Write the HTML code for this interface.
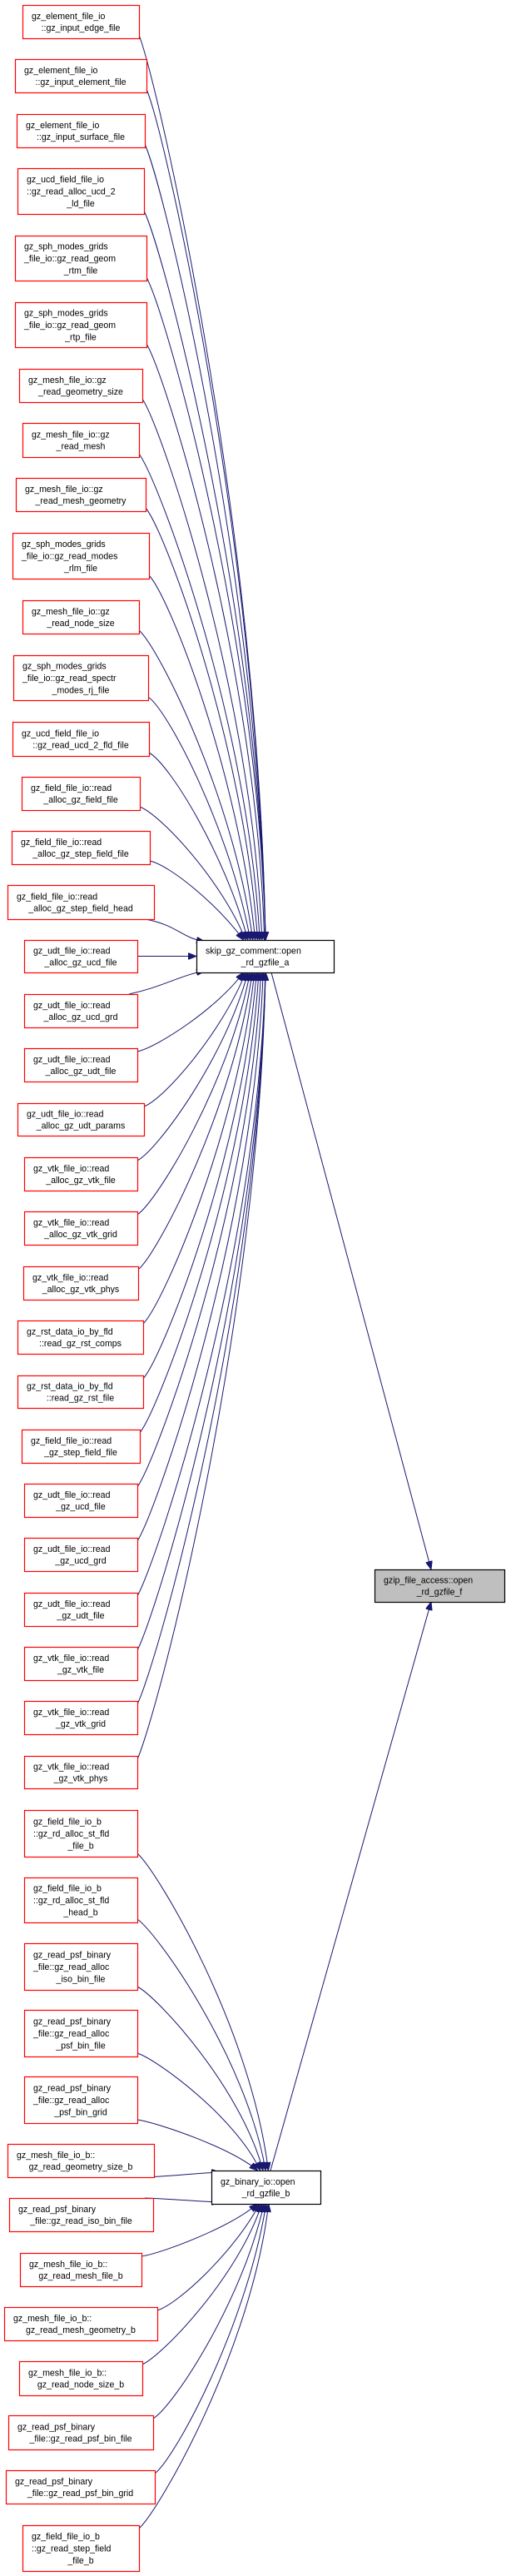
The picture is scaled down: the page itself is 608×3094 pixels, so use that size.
<!DOCTYPE html>
<html><head><meta charset="utf-8"><title>open_rd_gzfile_f caller graph</title>
<style>
html,body{margin:0;padding:0;background:#fff;}
svg{display:block;}
text{font-family:"Liberation Sans",Arial,sans-serif;font-size:10.6px;fill:#000;}
</style></head>
<body>
<svg id="g" width="608" height="3094" viewBox="0 0 608 3094" xmlns="http://www.w3.org/2000/svg">
<defs>
<marker id="ah" markerWidth="10" markerHeight="8" refX="10" refY="4" orient="auto" markerUnits="userSpaceOnUse">
<path d="M0,0 L10,4 L0,8 z" fill="#191970" stroke="#191970"/>
</marker>
</defs>
<g id="edges"></g>
<g id="nodes"></g>
</svg>
<script>
// caller labels (group A -> skip_gz_comment::open_rd_gzfile_a)
const labelsA = [
"gz_element_file_io\n::gz_input_edge_file",
"gz_element_file_io\n::gz_input_element_file",
"gz_element_file_io\n::gz_input_surface_file",
"gz_ucd_field_file_io\n::gz_read_alloc_ucd_2\n_ld_file",
"gz_sph_modes_grids\n_file_io::gz_read_geom\n_rtm_file",
"gz_sph_modes_grids\n_file_io::gz_read_geom\n_rtp_file",
"gz_mesh_file_io::gz\n_read_geometry_size",
"gz_mesh_file_io::gz\n_read_mesh",
"gz_mesh_file_io::gz\n_read_mesh_geometry",
"gz_sph_modes_grids\n_file_io::gz_read_modes\n_rlm_file",
"gz_mesh_file_io::gz\n_read_node_size",
"gz_sph_modes_grids\n_file_io::gz_read_spectr\n_modes_rj_file",
"gz_ucd_field_file_io\n::gz_read_ucd_2_fld_file",
"gz_field_file_io::read\n_alloc_gz_field_file",
"gz_field_file_io::read\n_alloc_gz_step_field_file",
"gz_field_file_io::read\n_alloc_gz_step_field_head",
"gz_udt_file_io::read\n_alloc_gz_ucd_file",
"gz_udt_file_io::read\n_alloc_gz_ucd_grd",
"gz_udt_file_io::read\n_alloc_gz_udt_file",
"gz_udt_file_io::read\n_alloc_gz_udt_params",
"gz_vtk_file_io::read\n_alloc_gz_vtk_file",
"gz_vtk_file_io::read\n_alloc_gz_vtk_grid",
"gz_vtk_file_io::read\n_alloc_gz_vtk_phys",
"gz_rst_data_io_by_fld\n::read_gz_rst_comps",
"gz_rst_data_io_by_fld\n::read_gz_rst_file",
"gz_field_file_io::read\n_gz_step_field_file",
"gz_udt_file_io::read\n_gz_ucd_file",
"gz_udt_file_io::read\n_gz_ucd_grd",
"gz_udt_file_io::read\n_gz_udt_file",
"gz_vtk_file_io::read\n_gz_vtk_file",
"gz_vtk_file_io::read\n_gz_vtk_grid",
"gz_vtk_file_io::read\n_gz_vtk_phys"
];
// boxes [x1,y1,x2,y2]
const boxesA = [
[27,6,167,46],[18,71,176,111],[20,137,174,177],[21,202,173,257],
[18,283,176,337],[18,363,176,417],[23,443,171,483],[27,508,167,549],
[19,574,175,614],[15,640,179,695],[27,721,167,761],[16,787,178,841],
[15,867,179,908],[26,933,168,973],[14,998,180,1038],[9,1063,185,1104],
[29,1129,165,1168],[29,1194,165,1234],[29,1259,165,1299],[21,1325,173,1364],
[29,1390,165,1430],[29,1455,165,1495],[28,1521,166,1561],[21,1586,172,1626],
[21,1652,172,1691],[26,1717,168,1757],[29,1782,165,1822],[29,1847,165,1887],
[29,1913,165,1953],[29,1978,165,2018],[29,2043,165,2083],[29,2109,165,2148]
];
const labelsB = [
"gz_field_file_io_b\n::gz_rd_alloc_st_fld\n_file_b",
"gz_field_file_io_b\n::gz_rd_alloc_st_fld\n_head_b",
"gz_read_psf_binary\n_file::gz_read_alloc\n_iso_bin_file",
"gz_read_psf_binary\n_file::gz_read_alloc\n_psf_bin_file",
"gz_read_psf_binary\n_file::gz_read_alloc\n_psf_bin_grid",
"gz_mesh_file_io_b::\ngz_read_geometry_size_b",
"gz_read_psf_binary\n_file::gz_read_iso_bin_file",
"gz_mesh_file_io_b::\ngz_read_mesh_file_b",
"gz_mesh_file_io_b::\ngz_read_mesh_geometry_b",
"gz_mesh_file_io_b::\ngz_read_node_size_b",
"gz_read_psf_binary\n_file::gz_read_psf_bin_file",
"gz_read_psf_binary\n_file::gz_read_psf_bin_grid",
"gz_field_file_io_b\n::gz_read_step_field\n_file_b"
];
const boxesB = [
[29,2174,165,2230],[29,2255,165,2309],[29,2334,165,2390],[29,2414,165,2470],
[29,2494,165,2550],[9,2575,185,2615],[11,2640,184,2680],[24,2706,170,2746],
[5,2771,189,2811],[23,2836,171,2877],[10,2901,184,2942],[7,2967,186,3007],
[27,3033,167,3088]
];
const skipBox = [236,1129,401,1168];
const binBox = [254,2607,385,2647];
const gzipBox = [450,1885,606,1924];

const NS = "http://www.w3.org/2000/svg";
const eG = document.getElementById('edges');
const nG = document.getElementById('nodes');

function slug(s){return s.replace(/\n/g,'').replace(/::/g,'-').replace(/_/g,'-').replace(/-+/g,'-').toLowerCase();}

function drawNode(label, b, stroke, fill, name){
  const g = document.createElementNS(NS,'g');
  
  
  const r = document.createElementNS(NS,'rect');
  r.setAttribute('x', b[0]+0.5); r.setAttribute('y', b[1]+0.5);
  r.setAttribute('width', b[2]-b[0]); r.setAttribute('height', b[3]-b[1]);
  r.setAttribute('fill', fill); r.setAttribute('stroke', stroke); r.setAttribute('stroke-width','1.2');
  
  
  g.appendChild(r);
  const lines = label.split('\n');
  const n = lines.length, lh = 14.3;
  const cy = (b[1]+b[3])/2;
  lines.forEach((ln,i)=>{
    const t = document.createElementNS(NS,'text');
    const last = i===n-1;
    if(last){ t.setAttribute('x',(b[0]+b[2])/2); t.setAttribute('text-anchor','middle'); }
    else { t.setAttribute('x',b[0]+11); t.setAttribute('text-anchor','start'); }
    t.setAttribute('y', cy - (n-1)*lh/2 + i*lh + 4);
    
    
    t.textContent = ln;
    g.appendChild(t);
  });
  nG.appendChild(g);
}

function path(d, name){
  const p = document.createElementNS(NS,'path');
  p.setAttribute('d', d);
  p.setAttribute('fill','none');
  p.setAttribute('stroke','#191970');
  p.setAttribute('stroke-width','1');
  p.setAttribute('marker-end','url(#ah)');
  
  
  eG.appendChild(p);
}

function edgesTo(boxes, T, names){
  const tcy = (T[1]+T[3])/2;
  boxes.forEach((b,i)=>{
    const cy=(b[1]+b[3])/2, d=cy-tcy, ad=Math.abs(d);
    let sx=b[2], sy, ex, ey;
    if(ad<12){ sy=cy; ex=T[0]; ey=tcy;
      path(`M${sx},${sy} L${ex},${ey}`, 'edge-'+names[i]); return; }
    if(ad<90){ sx=b[2]-10; sy = d<0? b[3] : b[1]; ex=T[0]+10; ey = d<0? T[1]+2 : T[3]-2;
      path(`M${sx},${sy} C${sx+40},${sy+(ey-sy)*0.3} ${ex-30},${ey-(ey-sy)*0.2} ${ex},${ey}`, 'edge-'+names[i]); return; }
    sy = d<0? b[3]-4 : b[1]+4;
    const off = Math.min(1, (ad-90)/700);
    ex = T[0] + 55 + off*28; ey = d<0? T[1] : T[3];
    const c1x = sx + 25, c1y = sy + (ey-sy)*0.06;
    const c2x = ex - 8 - (1-off)*25, c2y = sy + (ey-sy)*0.55;
    path(`M${sx},${sy} C${c1x},${c1y} ${c2x},${c2y} ${ex},${ey}`, 'edge-'+names[i]);
  });
}

const namesA = labelsA.map(slug), namesB = labelsB.map(slug);
edgesTo(boxesA, skipBox, namesA);
edgesTo(boxesB, binBox, namesB);
path(`M326,${skipBox[3]} L518,${gzipBox[1]}`, 'edge-skip-to-gzip');
path(`M325,${binBox[1]} L518,${gzipBox[3]}`, 'edge-binary-to-gzip');

labelsA.forEach((l,i)=>drawNode(l, boxesA[i], '#ff0000', '#ffffff', namesA[i]));
labelsB.forEach((l,i)=>drawNode(l, boxesB[i], '#ff0000', '#ffffff', namesB[i]));
drawNode("skip_gz_comment::open\n_rd_gzfile_a", skipBox, '#000000', '#ffffff', 'skip-gz-comment-open-rd-gzfile-a');
drawNode("gz_binary_io::open\n_rd_gzfile_b", binBox, '#000000', '#ffffff', 'gz-binary-io-open-rd-gzfile-b');
drawNode("gzip_file_access::open\n_rd_gzfile_f", gzipBox, '#000000', '#bfbfbf', 'gzip-file-access-open-rd-gzfile-f');
</script>
</body></html>
